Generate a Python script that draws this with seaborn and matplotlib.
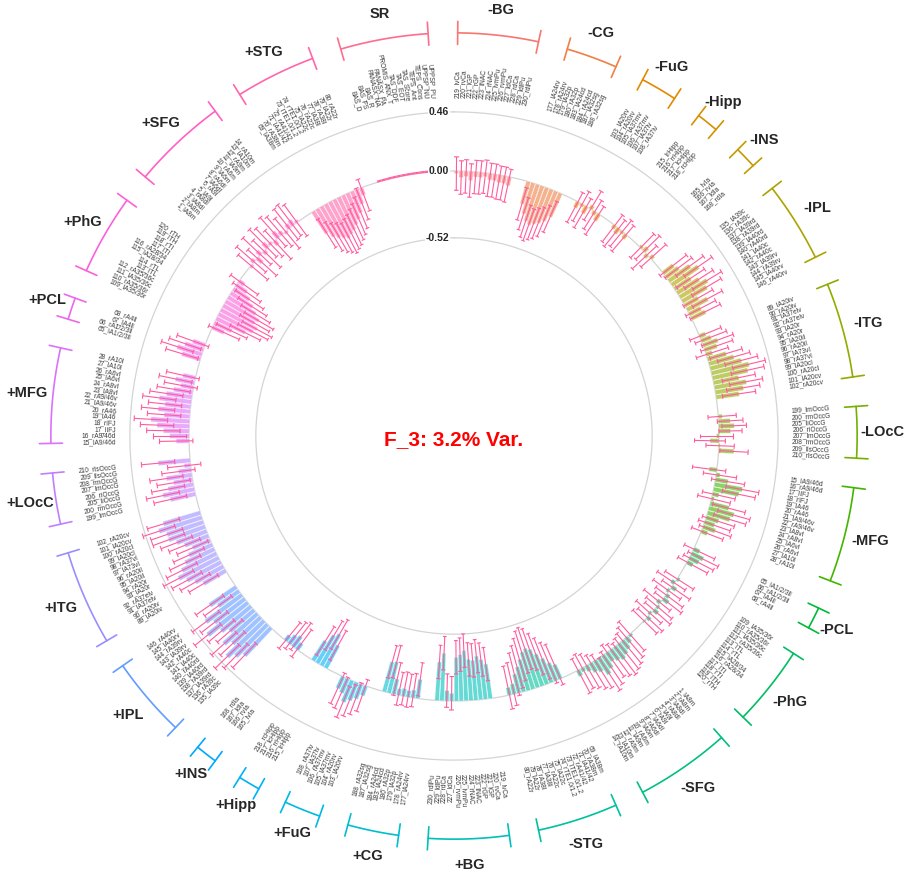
import numpy as np
import pandas as pd
import matplotlib.pyplot as plt
import seaborn as sns

regions = ['BG', 'CG', 'FuG', 'Hipp', 'INS', 'IPL', 'ITG', 'LOcC', 'MFG', 'PCL', 'PhG', 'SFG', 'STG']

roi_names = {
    'BG': ['219_lvCa', '220_rvCa', '221_lGP', '222_rGP', '223_lNAC', '224_rNAC', '225_lvmPu',
           '226_rvmPu', '227_ldCa', '228_rdCa', '229_ldlPu', '230_rdlPu'],
    'CG': ['177_lA24rv', '178_rA24rv', '179_lA32p', '180_rA32p', '183_lA24cd', '184_rA24cd',
           '187_lA32sg', '188_rA32sg'],
    'FuG': ['103_lA20rv', '104_rA20rv', '105_lA37mv', '106_rA37mv', '107_lA37lv', '108_rA37lv'],
    'Hipp': ['215_lrHipp', '216_rrHipp', '217_lcHipp', '218_rcHipp'],
    'INS': ['165_lvIa', '166_rvIa', '167_ldIa', '168_rdIa'],
    'IPL': ['135_lA39c', '136_rA39c', '137_lA39rd', '138_rA39rd', '139_lA40rd', '140_rA40rd',
            '141_lA40c', '142_rA40c', '143_lA39rv', '144_rA39rv', '145_lA40rv', '146_rA40rv'],
    'ITG': ['89_lA20iv', '90_rA20iv', '91_lA37elv', '92_rA37elv', '93_lA20r', '94_rA20r',
            '95_lA20il', '96_rA20il', '97_lA73vl', '98_rA37vl', '99_lA20cl', '100_rA20cl',
            '101_lA20cv', '102_rA20cv'],
    'LOcC': ['199_lmOccG', '200_rmOccG', '205_liOccG', '206_riOccG', '207_lmOccG', '208_rmOccG',
             '209_llsOccG', '210_rlsOccG'],
    'MFG': ['15_lA9/46d', '16_rA9/46d', '17_lIFJ', '18_rIFJ', '19_lA46', '20_rA46', '21_lA9/46v',
            '22_rA9/46v', '23_lA8vl', '24_rA8vl', '25_lA6vl', '26_rA6vl', '27_lA10l', '28_rA10l'],
    'PCL': ['65_lA1/2/3ll', '66_rA1/2/3ll', '67_lA4ll', '68_rA4ll'],
    'PhG': ['109_lA35/36r', '110_rA35/36r', '111_lA35/36c', '112_rA35/36c', '113_lTL', '114_rTL',
            '115_lA28/34', '116_rA28/34', '117_lTI', '118_rTI', '119_lTH', '120_rTH'],
    'SFG': ['1_lA8m', '2_rA8m', '3_lA8dl', '4_rA8dl', '5_lA9l', '6_rA9l', '7_lA6dl', '8_rA6dl',
            '9_lA6m', '10_rA6m', '11_lA9m', '12_rA9m', '13_lA10m', '14_rA10m'],
    'STG': ['69_lA38m', '70_rA38m', '71_lA41/42', '72_rA41/42', '73_lTE1.0/1.2', '74_rTE1.0/1.2',
            '75_lA22c', '76_rA22c', '77_lA38l', '78_rA38l', '79_lA22r', '80_rA22r'],
}
sr_names = ['BAS_D', 'BAS_FS', 'BAS_R', 'PANASX_NA', 'PANASX_PA', 'PROMIS_ANX_T', 'TAS_DDF',
            'TAS_EOT', 'TAS_Score', 'TEPS_Ant', 'TEPS_Cons', 'UPPSP_NU', 'UPPSP_PU']

neg_vals = {
    'BG': [-0.02, -0.05, -0.04, -0.07, -0.04, -0.04, -0.03, -0.05, -0.05, -0.06, -0.06, -0.07],
    'CG': [-0.18, -0.25, -0.30, -0.32, -0.30, -0.28, -0.25, -0.20],
    'FuG': [-0.05, -0.02, -0.06, 0.03, -0.03, -0.06],
    'Hipp': [-0.03, -0.05, -0.02, -0.04],
    'INS': [0.02, 0.04, -0.03, 0.03],
    'IPL': [0.10, 0.12, 0.20, 0.25, 0.15, 0.20, 0.25, 0.22, 0.12, 0.18, 0.10, 0.12],
    'ITG': [0.05, 0.08, 0.12, 0.10, 0.05, 0.15, 0.20, 0.25, 0.30, 0.28, 0.20, 0.25, 0.22, 0.18],
    'LOcC': [0.03, 0.09, 0.12, 0.09, -0.02, -0.07, 0.01, 0.12],
    'MFG': [-0.06, 0.03, 0.10, 0.22, 0.20, 0.05, 0.02, 0.15, 0.20, 0.18, 0.10, 0.08, 0.10, 0.05],
    'PCL': [0.05, 0.10, 0.08, 0.05],
    'PhG': [0.02, -0.03, 0.04, -0.02, 0.03, 0.05, -0.03, 0.02, 0.04, -0.02, 0.03, 0.01],
    'SFG': [0.02, 0.05, 0.08, 0.10, 0.12, 0.10, 0.08, 0.12, 0.15, 0.10, 0.08, 0.05, 0.03, 0.05],
    'STG': [-0.12, -0.15, -0.20, -0.25, -0.30, -0.32, -0.30, -0.25, -0.20, -0.15, -0.08, -0.06],
}
neg_err = {
    'LOcC': [0.11, 0.10, 0.095, 0.09, 0.13, 0.12, 0.11, 0.11],
    'PhG': [0.13] * 12,
    'SFG': [0.15] * 14,
    'STG': [0.17] * 12,
}
pos_vals = {
    'BG': [-0.27, -0.31, -0.34, -0.31, -0.32, -0.39, -0.36, -0.34, -0.06, -0.08, -0.37, -0.30],
    'CG': [-0.15, -0.06, -0.05, -0.06, -0.05, -0.12, -0.25, -0.24],
    'FuG': [0.08, 0.12, 0.15, 0.18, 0.12, 0.10],
    'Hipp': [-0.20, -0.28, -0.25, -0.18],
    'INS': [-0.06, -0.10, -0.08, -0.05],
    'IPL': [0.30, 0.35, 0.40, 0.30, 0.35, 0.25, 0.30, 0.40, 0.30, 0.35, 0.20, 0.25],
    'ITG': [0.20, 0.25, 0.30, 0.35, 0.30, 0.25, 0.20, 0.15, 0.20, 0.25, 0.30, 0.30, 0.35, 0.30],
    'LOcC': [0.20, 0.25, 0.20, 0.15, 0.20, 0.10, 0.05, 0.25],
    'MFG': [0.10, 0.15, 0.20, 0.25, 0.30, 0.20, 0.25, 0.20, 0.25, 0.20, 0.15, 0.10, 0.15, 0.10],
    'PCL': [0.15, 0.20, 0.15, 0.10],
    'PhG': [-0.10, -0.15, -0.25, -0.30, -0.32, -0.28, -0.30, -0.25, -0.20, -0.15, -0.10, -0.05],
    'SFG': [-0.02, 0.03, -0.05, 0.04, -0.03, 0.05, 0.02, -0.04, 0.06, 0.03, -0.02, 0.04, 0.05, 0.02],
    'STG': [-0.20, -0.25, -0.28, -0.30, -0.32, -0.30, -0.28, -0.25, -0.22, -0.18, -0.12, -0.06],
}
pos_err = {
    'SFG': [0.15] * 14,
}
sr_vals = [0.005] * 13
sr_err = [0.004] * 13
err_default = 0.13

# ---- build table -----------------------------------------------------------
rows = []
group_order = ['-' + g for g in regions] + ['+' + g for g in regions] + ['SR']
for sign, vtab, etab in [('-', neg_vals, neg_err), ('+', pos_vals, pos_err)]:
    for reg in regions:
        errs = etab.get(reg, [err_default] * len(vtab[reg]))
        for name, v, e in zip(roi_names[reg], vtab[reg], errs):
            rows.append((sign + reg, name, v, e))
for name, v, e in zip(sr_names, sr_vals, sr_err):
    rows.append(('SR', name, v, e))
df = pd.DataFrame(rows, columns=['group', 'label', 'value', 'err'])

empty_bar = 3
slot = []
pos = 0
for g in group_order:
    n = (df['group'] == g).sum()
    slot += list(range(pos, pos + n))
    pos += n + empty_bar
n_slots = pos
df['slot'] = slot
step = 2 * np.pi / n_slots
df['theta'] = (df['slot'] + 0.5) * step


def hcl(h, c=100, l=65):
    # polar CIELUV -> sRGB (same recipe as R's hcl(), clipped)
    xn, yn, zn = 95.047, 100.0, 108.883
    un = 4 * xn / (xn + 15 * yn + 3 * zn)
    vn = 9 * yn / (xn + 15 * yn + 3 * zn)
    u_ = c * np.cos(np.radians(h)) / (13 * l) + un
    v_ = c * np.sin(np.radians(h)) / (13 * l) + vn
    y = yn * ((l + 16) / 116) ** 3
    x = 9 * y * u_ / (4 * v_)
    z = y * (12 - 3 * u_ - 20 * v_) / (4 * v_)
    m = np.array([[3.240479, -1.537150, -0.498535],
                  [-0.969256, 1.875992, 0.041556],
                  [0.055648, -0.204043, 1.057311]])
    rgb = m @ (np.array([x, y, z]) / 100)
    rgb = np.where(rgb <= 0.0031308, 12.92 * rgb, 1.055 * np.abs(rgb) ** (1 / 2.4) - 0.055)
    return tuple(np.clip(rgb, 0, 1))


n_groups = len(group_order)
palette = [hcl(15 + 360 * k / n_groups) for k in range(n_groups)]
gcol = dict(zip(group_order, palette))

# ---- figure ----------------------------------------------------------------
sns.set_style('white')
plt.rcParams['font.family'] = ['Liberation Sans', 'DejaVu Sans']

fig = plt.figure(figsize=(9.08, 8.77), dpi=100)
R = 450
px_per_unit = 128.5
ax = fig.add_axes([(454 - R) / 908, (441 - R) / 877, 2 * R / 908, 2 * R / 877], polar=True)
ax.set_theta_zero_location('N')
ax.set_theta_direction(-1)
rmin = -265 / px_per_unit
ax.set_ylim(rmin, rmin + R / px_per_unit)
ax.axis('off')

full = np.linspace(0, 2 * np.pi, 400)
for lev in [0.46, 0.0, -0.52]:
    ax.plot(full, np.full_like(full, lev), color='#d4d4d4', lw=0.9, zorder=0)
    r_px = 265 + px_per_unit * lev
    ax.text(-5 / r_px, lev, f'{lev:.2f}', ha='right', va='center', fontsize=7.5,
            fontweight='bold', bbox=dict(fc='white', ec='none', pad=0.6), zorder=5)

ax.bar(df['theta'], df['value'], width=step * 0.9, bottom=0,
       color=[gcol[g] for g in df['group']], alpha=0.6, edgecolor='white', linewidth=0.4, zorder=2)

ecol = '#ff5c9e'
lo = df['value'] - df['err']
hi = df['value'] + df['err']
ax.vlines(df['theta'], lo, hi, color=ecol, lw=0.8, zorder=3)
hw = step * 0.5
ax.hlines(lo, df['theta'] - hw, df['theta'] + hw, color=ecol, lw=0.8, zorder=3)
ax.hlines(hi, df['theta'] - hw, df['theta'] + hw, color=ecol, lw=0.8, zorder=3)

# item labels
for th, lab in zip(df['theta'], df['label']):
    deg = np.degrees(th)
    if deg < 180:
        rot, ha = 90 - deg, 'left'
    else:
        rot, ha = 270 - deg, 'right'
    ax.text(th, 0.57, lab, rotation=rot, rotation_mode='anchor', ha=ha, va='center',
            fontsize=4.8, color='#3a3a3a')

# group brackets and names
for g in group_order:
    sub = df[df['group'] == g]
    t0, t1 = sub['theta'].min(), sub['theta'].max()
    arc = np.linspace(t0, t1, 60)
    ax.plot(arc, np.full_like(arc, 1.075), color=gcol[g], lw=1.2)
    for t in (t0, t1):
        ax.plot([t, t], [0.985, 1.165], color=gcol[g], lw=1.2)
    ax.text((t0 + t1) / 2, 1.275, g, ha='center', va='center', fontsize=10.5, fontweight='bold')

fig.text(0.5, 1 - 440 / 877, 'F_3: 3.2% Var.', color='#ff0000', fontsize=15,
         fontweight='bold', ha='center', va='center')

fig.savefig('out.png', dpi=100)
